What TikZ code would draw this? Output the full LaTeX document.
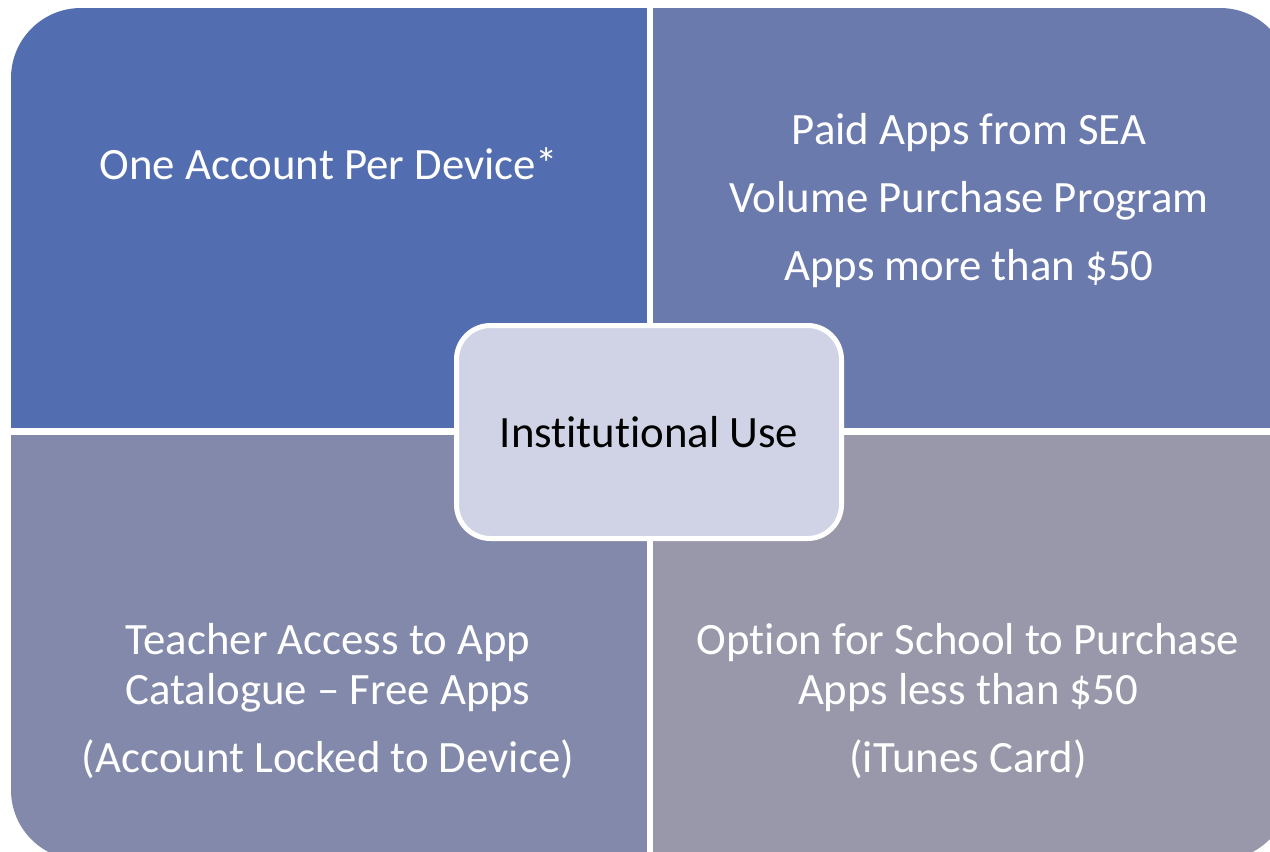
\documentclass[tikz,border=0pt]{standalone}
\usepackage{fontspec}
\setmainfont{Carlito}[Ligatures=NoCommon]
\usepackage{xcolor}
\definecolor{quadA}{RGB}{82,109,176}
\definecolor{quadB}{RGB}{106,122,173}
\definecolor{quadC}{RGB}{130,137,170}
\definecolor{quadD}{RGB}{152,152,170}
\definecolor{hub}{RGB}{208,211,230}
\newcommand*{\bigtext}[1][25]{\fontsize{22.4}{#1}\selectfont}

\begin{document}
\begin{tikzpicture}[x=0.5pt, y=-0.5pt]
      \fill[white] (0,0) rectangle (1270,852);
      \useasboundingbox (0,0) rectangle (1270,852);

      \begin{scope}
        \clip[rounded corners=35pt] (11,8) rectangle (1290,860);
        \fill[quadA] (11,8) rectangle (647,428);
        \fill[quadB] (653,8) rectangle (1290,428);
        \fill[quadC] (11,435) rectangle (647,860);
        \fill[quadD] (653,435) rectangle (1290,860);
      \end{scope}

      {\tikzstyle{every node}=[text=white, align=center, font=\bigtext]
        \node (account) at (329,164) {One Account Per Device*};
        \node[font={\bigtext[34]}] (paid) at (969,201)
          {Paid Apps from SEA\\Volume Purchase Program\\Apps more than \$50};
        \node (teacher) at (328,701)
          {Teacher Access to App\\Catalogue -- Free Apps\\[9pt](Account Locked to Device)};
        \node (school) at (968,701)
          {Option for School to Purchase\\Apps less than \$50\\[9pt](iTunes Card)};
      }

      \node[draw=white, line width=2.5pt, fill=hub, rounded corners=17pt,
        minimum width=192.5pt, minimum height=106.5pt, font=\bigtext]
        (use) at (649,432) {Institutional Use};
    \end{tikzpicture}
\end{document}
